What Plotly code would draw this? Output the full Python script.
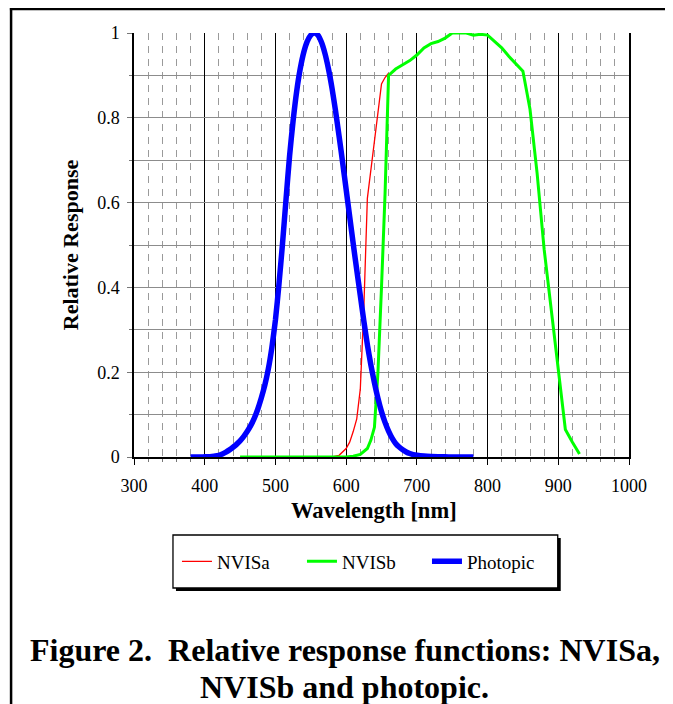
import plotly.graph_objects as go

# ---- data ----
photopic_nm = [380, 385, 390, 395, 400, 405, 410, 415, 420, 425, 430, 435, 440, 445,
               450, 455, 460, 465, 470, 475, 480, 485, 490, 495, 500, 505, 510, 515,
               520, 525, 530, 535, 540, 545, 550, 555, 560, 565, 570, 575, 580, 585,
               590, 595, 600, 605, 610, 615, 620, 625, 630, 635, 640, 645, 650, 655,
               660, 665, 670, 675, 680, 685, 690, 695, 700, 710, 720, 730, 740, 750,
               760, 770, 780]
photopic_val = [0.0000, 0.0001, 0.0001, 0.0002, 0.0004, 0.0006, 0.0012, 0.0022, 0.004,
                0.0073, 0.0116, 0.0168, 0.023, 0.0298, 0.038, 0.048, 0.06, 0.0739,
                0.091, 0.1126, 0.139, 0.1693, 0.208, 0.2586, 0.323, 0.4073, 0.503,
                0.6082, 0.71, 0.7932, 0.862, 0.9149, 0.954, 0.9803, 0.995, 1.0, 0.995,
                0.9786, 0.952, 0.9154, 0.87, 0.8163, 0.757, 0.6949, 0.631, 0.5668,
                0.503, 0.4412, 0.381, 0.321, 0.265, 0.217, 0.175, 0.1382, 0.107,
                0.0816, 0.061, 0.0446, 0.032, 0.0235, 0.017, 0.0119, 0.0082, 0.0057,
                0.0041, 0.0021, 0.001, 0.0005, 0.0003, 0.0001, 0.0001, 0.0, 0.0]

nvisa_nm = [580, 590, 600, 605, 610, 615, 620, 625, 630, 640, 650, 655, 660]
nvisa_val = [0.0, 0.004, 0.02, 0.035, 0.06, 0.09, 0.16, 0.35, 0.61, 0.74, 0.88,
             0.895, 0.905]

nvisb_nm = [450, 500, 550, 600, 610, 620, 630, 635, 640, 645, 650, 655, 660, 670,
            680, 690, 700, 710, 720, 730, 740, 750, 760, 770, 780, 790, 800, 810,
            820, 830, 840, 850, 860, 870, 880, 890, 900, 910, 920, 930]
nvisb_val = [0.0, 0.0, 0.0, 0.0, 0.002, 0.006, 0.02, 0.04, 0.07, 0.2, 0.4, 0.62,
             0.9, 0.915, 0.925, 0.935, 0.948, 0.965, 0.975, 0.98, 0.988, 1.0, 1.0,
             1.0, 0.995, 0.997, 0.995, 0.98, 0.965, 0.945, 0.928, 0.91, 0.82,
             0.67, 0.49, 0.35, 0.2, 0.065, 0.035, 0.007]

x_ticks = [300, 400, 500, 600, 700, 800, 900, 1000]
y_ticks = [0, 0.2, 0.4, 0.6, 0.8, 1]
y_tick_labels = ["0", "0.2", "0.4", "0.6", "0.8", "1"]

SERIF = "Liberation Serif, Times New Roman, serif"

fig = go.Figure()
fig.add_trace(go.Scatter(x=nvisa_nm, y=nvisa_val, mode="lines", name="NVISa",
                         line=dict(color="#ff0000", width=1.3), legendrank=1))
fig.add_trace(go.Scatter(x=nvisb_nm, y=nvisb_val, mode="lines", name="NVISb",
                         line=dict(color="#00ff00", width=3), legendrank=2))
fig.add_trace(go.Scatter(x=photopic_nm, y=photopic_val, mode="lines", name="Photopic",
                         line=dict(color="#0000ff", width=5.5, shape="spline",
                                   smoothing=0.6),
                         legendrank=3))

# page offset: the browser body has an 8px margin, so the figure is 8px smaller
OFF = 8
W, H = 673 - OFF, 704 - OFF
L, R, T, B = 134 - OFF, 629.3 - OFF, 33 - OFF, 457 - OFF
pw, ph = R - L, B - T


def px_x(p):
    """reference-page pixel x -> paper coordinate"""
    return (p - OFF - L) / pw


def px_y(p):
    """reference-page pixel y -> paper coordinate"""
    return (B - (p - OFF)) / ph


shapes = [
    # outer page frame (left & top)
    dict(type="line", xref="paper", yref="paper", x0=px_x(11), x1=px_x(11),
         y0=px_y(8), y1=px_y(720), line=dict(color="black", width=2.5)),
    dict(type="line", xref="paper", yref="paper", x0=px_x(9.8), x1=px_x(700),
         y0=px_y(9), y1=px_y(9), line=dict(color="black", width=2.5)),
    # legend shadow and box
    dict(type="rect", xref="paper", yref="paper", x0=px_x(176), x1=px_x(561),
         y0=px_y(538), y1=px_y(591), fillcolor="black", line=dict(width=0),
         layer="above"),
    dict(type="rect", xref="paper", yref="paper", x0=px_x(173), x1=px_x(558),
         y0=px_y(535), y1=px_y(588), fillcolor="white",
         line=dict(color="black", width=1.3), layer="above"),
]

annotations = [
    # x-axis title (slightly left of the plot centre, as in the reference)
    dict(text="<b>Wavelength [nm]</b>", xref="paper", yref="paper",
         x=px_x(374), y=px_y(511), showarrow=False, xanchor="center",
         yanchor="middle", font=dict(family=SERIF, size=22.5, color="black")),
    dict(text="<b>Figure 2.\u00a0 Relative response functions: NVISa,</b>",
         xref="paper", yref="paper", x=px_x(345), y=px_y(650), showarrow=False,
         xanchor="center", yanchor="middle",
         font=dict(family=SERIF, size=32, color="black")),
    dict(text="<b>NVISb and photopic.</b>", xref="paper", yref="paper",
         x=px_x(345), y=px_y(687), showarrow=False, xanchor="center",
         yanchor="middle", font=dict(family=SERIF, size=32, color="black")),
]

fig.update_layout(
    width=W, height=H,
    margin=dict(l=L, r=W - R, t=T, b=H - B, autoexpand=False),
    paper_bgcolor="white", plot_bgcolor="white",
    font=dict(family=SERIF, size=18, color="black"),
    showlegend=True,
    legend=dict(orientation="h", x=px_x(177), xanchor="left",
                y=px_y(561.5), yanchor="middle", bgcolor="rgba(0,0,0,0)",
                borderwidth=0, font=dict(family=SERIF, size=19, color="black"),
                entrywidth=80, entrywidthmode="pixels", itemwidth=30,
                traceorder="normal"),
    shapes=shapes,
    annotations=annotations,
    xaxis=dict(
        range=[300, 1000], tickvals=x_ticks, ticktext=[str(v) for v in x_ticks],
        showgrid=True, gridcolor="black", gridwidth=1.3,
        ticks="outside", ticklen=6, tickcolor="black", tickwidth=1.3,
        showline=True, linecolor="black", linewidth=1.5, mirror=False,
        zeroline=False, ticklabelstandoff=6,
        tickfont=dict(family=SERIF, size=18, color="black"),
        minor=dict(dtick=20, showgrid=True, gridcolor="#9a9a9a", gridwidth=1,
                   griddash="7px,6px", ticks="outside", ticklen=3,
                   tickcolor="#777", tickwidth=1),
    ),
    yaxis=dict(
        range=[0, 1], tickvals=y_ticks, ticktext=y_tick_labels,
        showgrid=True, gridcolor="#8c8c8c", gridwidth=1.3,
        ticks="outside", ticklen=5, tickcolor="#777", tickwidth=1.3,
        showline=True, linecolor="black", linewidth=1.5, mirror=True,
        zeroline=True, zerolinecolor="black", zerolinewidth=1.5,
        ticklabelstandoff=4,
        tickfont=dict(family=SERIF, size=18, color="black"),
        minor=dict(dtick=0.1, showgrid=True, gridcolor="#8c8c8c", gridwidth=1.3,
                   ticks="outside", ticklen=3, tickcolor="#777", tickwidth=1.3),
        title=dict(text="<b>Relative Response</b>", standoff=12,
                   font=dict(family=SERIF, size=22, color="black")),
    ),
)

fig.write_html("out.html")
